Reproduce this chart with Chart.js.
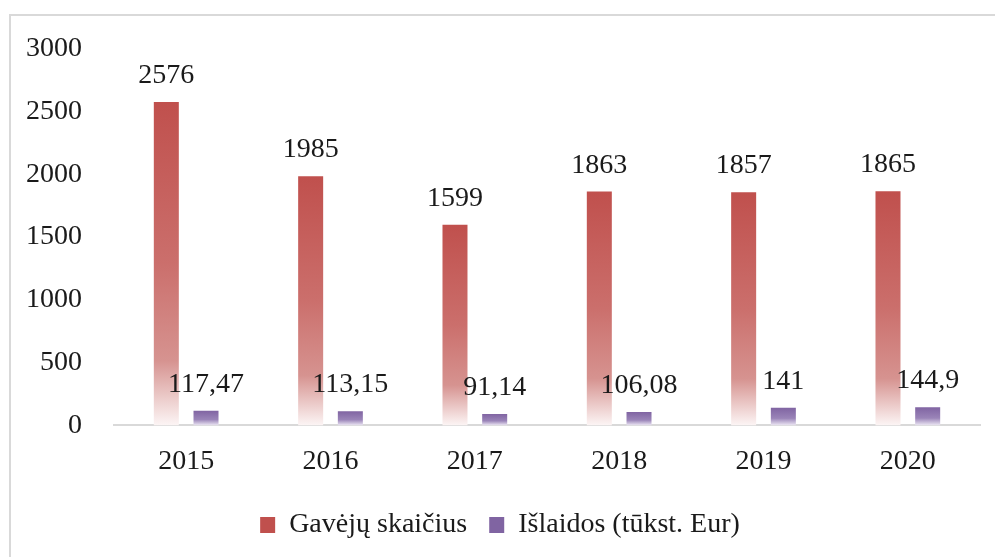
<!DOCTYPE html>
<html>
<head>
<meta charset="utf-8">
<script src="https://cdn.jsdelivr.net/npm/chart.js@4"></script>
<style>
    html, body { margin: 0; padding: 0; background: #fff; overflow: hidden; }
    #frame {
        position: absolute; left: 9px; top: 14px;
        width: 1000px; height: 560px;
        border: 2px solid #d9d9d9;
    }
    #wrap { position: absolute; left: 0; top: 0; width: 995px; height: 557px; }
</style>
</head>
<body>
<div id="frame"></div>
<div id="wrap"><canvas id="barChart"></canvas></div>
<script>
const years = ['2015', '2016', '2017', '2018', '2019', '2020'];
const recipients = [2576, 1985, 1599, 1863, 1857, 1865];
const spending = [117.47, 113.15, 91.14, 106.08, 141, 144.9];
const seriesNames = ['Gavėjų skaičius', 'Išlaidos (tūkst. Eur)'];
const seriesColors = ['#C0504D', '#8064A2'];

const FONT = '"Liberation Serif", "Times New Roman", serif';

function barGradient(ctx, stops, solid) {
    if (ctx.type !== 'data') return solid;
    const chart = ctx.chart;
    if (!chart.chartArea || !chart.scales.y) return solid;
    const y = chart.scales.y;
    const top = y.getPixelForValue(ctx.raw);
    const base = y.getPixelForValue(0);
    if (!isFinite(top) || !isFinite(base) || top === base) return solid;
    const g = chart.ctx.createLinearGradient(0, top, 0, base);
    stops.forEach(s => g.addColorStop(s[0], s[1]));
    return g;
}

const redStops = [[0, '#C0504D'], [0.5, '#CB6F6C'], [0.8, '#D69390'], [1, '#FCF5F5']];
const purpleStops = [[0, '#8064A2'], [0.6, '#9A84B8'], [1, '#EDE8F4']];

// draws value labels above every bar
const valueLabels = {
    id: 'valueLabels',
    afterDatasetsDraw(chart) {
        const c = chart.ctx;
        c.save();
        c.font = '28px ' + FONT;
        c.fillStyle = '#1a1a1a';
        c.textAlign = 'center';
        c.textBaseline = 'alphabetic';
        chart.data.datasets.forEach((ds, i) => {
            chart.getDatasetMeta(i).data.forEach((bar, j) => {
                const txt = String(ds.data[j]).replace('.', ',');
                c.fillText(txt, bar.x, bar.y - 19);
            });
        });
        c.restore();
    }
};

const chart = new Chart(document.getElementById('barChart'), {
    type: 'bar',
    data: {
        labels: years,
        datasets: [{
            label: seriesNames[0],
            data: recipients,
            backgroundColor: ctx => barGradient(ctx, redStops, seriesColors[0]),
            categoryPercentage: 0.55,
            barPercentage: 0.63
        }, {
            label: seriesNames[1],
            data: spending,
            backgroundColor: ctx => barGradient(ctx, purpleStops, seriesColors[1]),
            categoryPercentage: 0.55,
            barPercentage: 0.63
        }]
    },
    options: {
        responsive: true,
        maintainAspectRatio: false,
        animation: false,
        layout: { padding: { left: 20, right: 15, top: 28, bottom: 8 } },
        scales: {
            x: {
                grid: { display: false },
                border: { display: true, color: '#d9d9d9', width: 2 },
                ticks: { color: '#1a1a1a', font: { family: FONT, size: 28 }, padding: 11 }
            },
            y: {
                min: 0,
                max: 3000,
                grid: { display: false, drawTicks: false },
                border: { display: false },
                ticks: {
                    stepSize: 500,
                    color: '#1a1a1a',
                    font: { family: FONT, size: 28 },
                    padding: 32,
                    callback: v => String(v)
                },
                afterFit(scale) { scale.width = 94; }
            }
        },
        plugins: {
            legend: {
                position: 'bottom',
                labels: {
                    color: '#1a1a1a',
                    font: { family: FONT, size: 28 },
                    boxWidth: 15,
                    boxHeight: 16,
                    padding: 22,
                    generateLabels(chart) {
                        return chart.data.datasets.map((ds, i) => ({
                            text: ds.label,
                            fillStyle: seriesColors[i],
                            strokeStyle: seriesColors[i],
                            lineWidth: 0,
                            fontColor: '#1a1a1a',
                            hidden: !chart.isDatasetVisible(i),
                            datasetIndex: i
                        }));
                    }
                }
            },
            tooltip: { enabled: false }
        }
    },
    plugins: [valueLabels]
});
</script>
</body>
</html>
